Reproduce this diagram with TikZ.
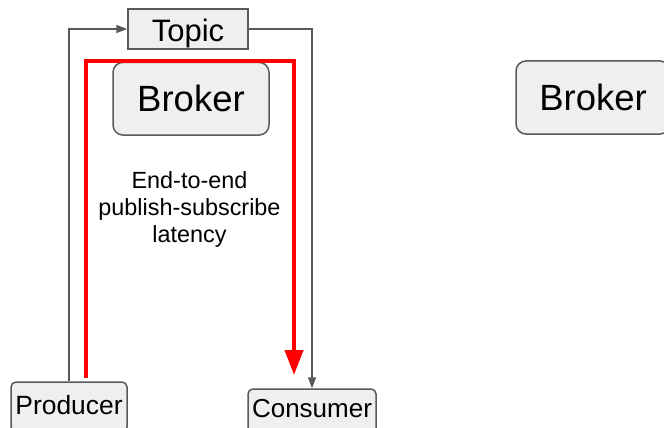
\documentclass[tikz,border=0pt]{standalone}
\usepackage{fontspec}
\setmainfont{Liberation Sans}
\usetikzlibrary{arrows.meta}
\definecolor{boxfill}{HTML}{EFEFEF}
\definecolor{boxline}{HTML}{595959}
\begin{document}
\begin{tikzpicture}[x=1pt,y=-1pt,
  box/.style={draw=boxline,fill=boxfill,line width=1.5pt,inner sep=0pt,text=black,text depth=0pt},
  conn/.style={draw=boxline,line width=1.5pt,-{Triangle[length=11pt,width=8pt]}},
  hot/.style={draw=red,line width=4pt,-{Triangle[length=25pt,width=18pt]}},
  lbl/.style={inner sep=0pt,anchor=base,font=\fontsize{23.4}{28}\selectfont}]
\useasboundingbox (0,0) rectangle (664,428);

% boxes (text height places each baseline inside its box)
\node[box,minimum width=120pt,minimum height=40pt,text height=25pt,
  font=\fontsize{31}{36}\selectfont] (topic) at (188,29) {Topic};
\node[box,rounded corners=10pt,minimum width=156pt,minimum height=72.7pt,text height=25.2pt,
  font=\fontsize{36.5}{42}\selectfont] (brokerA) at (191,98.7) {Broker};
\node[box,rounded corners=10pt,minimum width=154pt,minimum height=73pt,text height=26pt,
  font=\fontsize{36.5}{42}\selectfont] (brokerB) at (593,97.5) {Broker};
\node[box,rounded corners=5pt,minimum width=116pt,minimum height=50pt,text height=15pt,
  font=\fontsize{26.4}{30}\selectfont] (prod) at (69,407) {Producer};
\node[box,rounded corners=5pt,minimum width=128pt,minimum height=50pt,text height=6pt,
  font=\fontsize{26}{30}\selectfont] (cons) at (312,414) {Consumer};

% latency label
\node[lbl] (l1) at (189.5,188) {End-to-end};
\node[lbl] (l2) at (189.5,215.5) {publish-subscribe};
\node[lbl] (l3) at (189.5,242.5) {latency};

% message flow through the topic
\draw[conn] (prod.north) |- (topic.west);
\draw[conn] (topic.east) -| (cons.north);

% measured latency path
\coordinate (hs) at (86,378);
\coordinate (he) at (294,375);
\draw[hot] (hs) -- (86,61) -- (294,61) -- (he);
\end{tikzpicture}
\end{document}
